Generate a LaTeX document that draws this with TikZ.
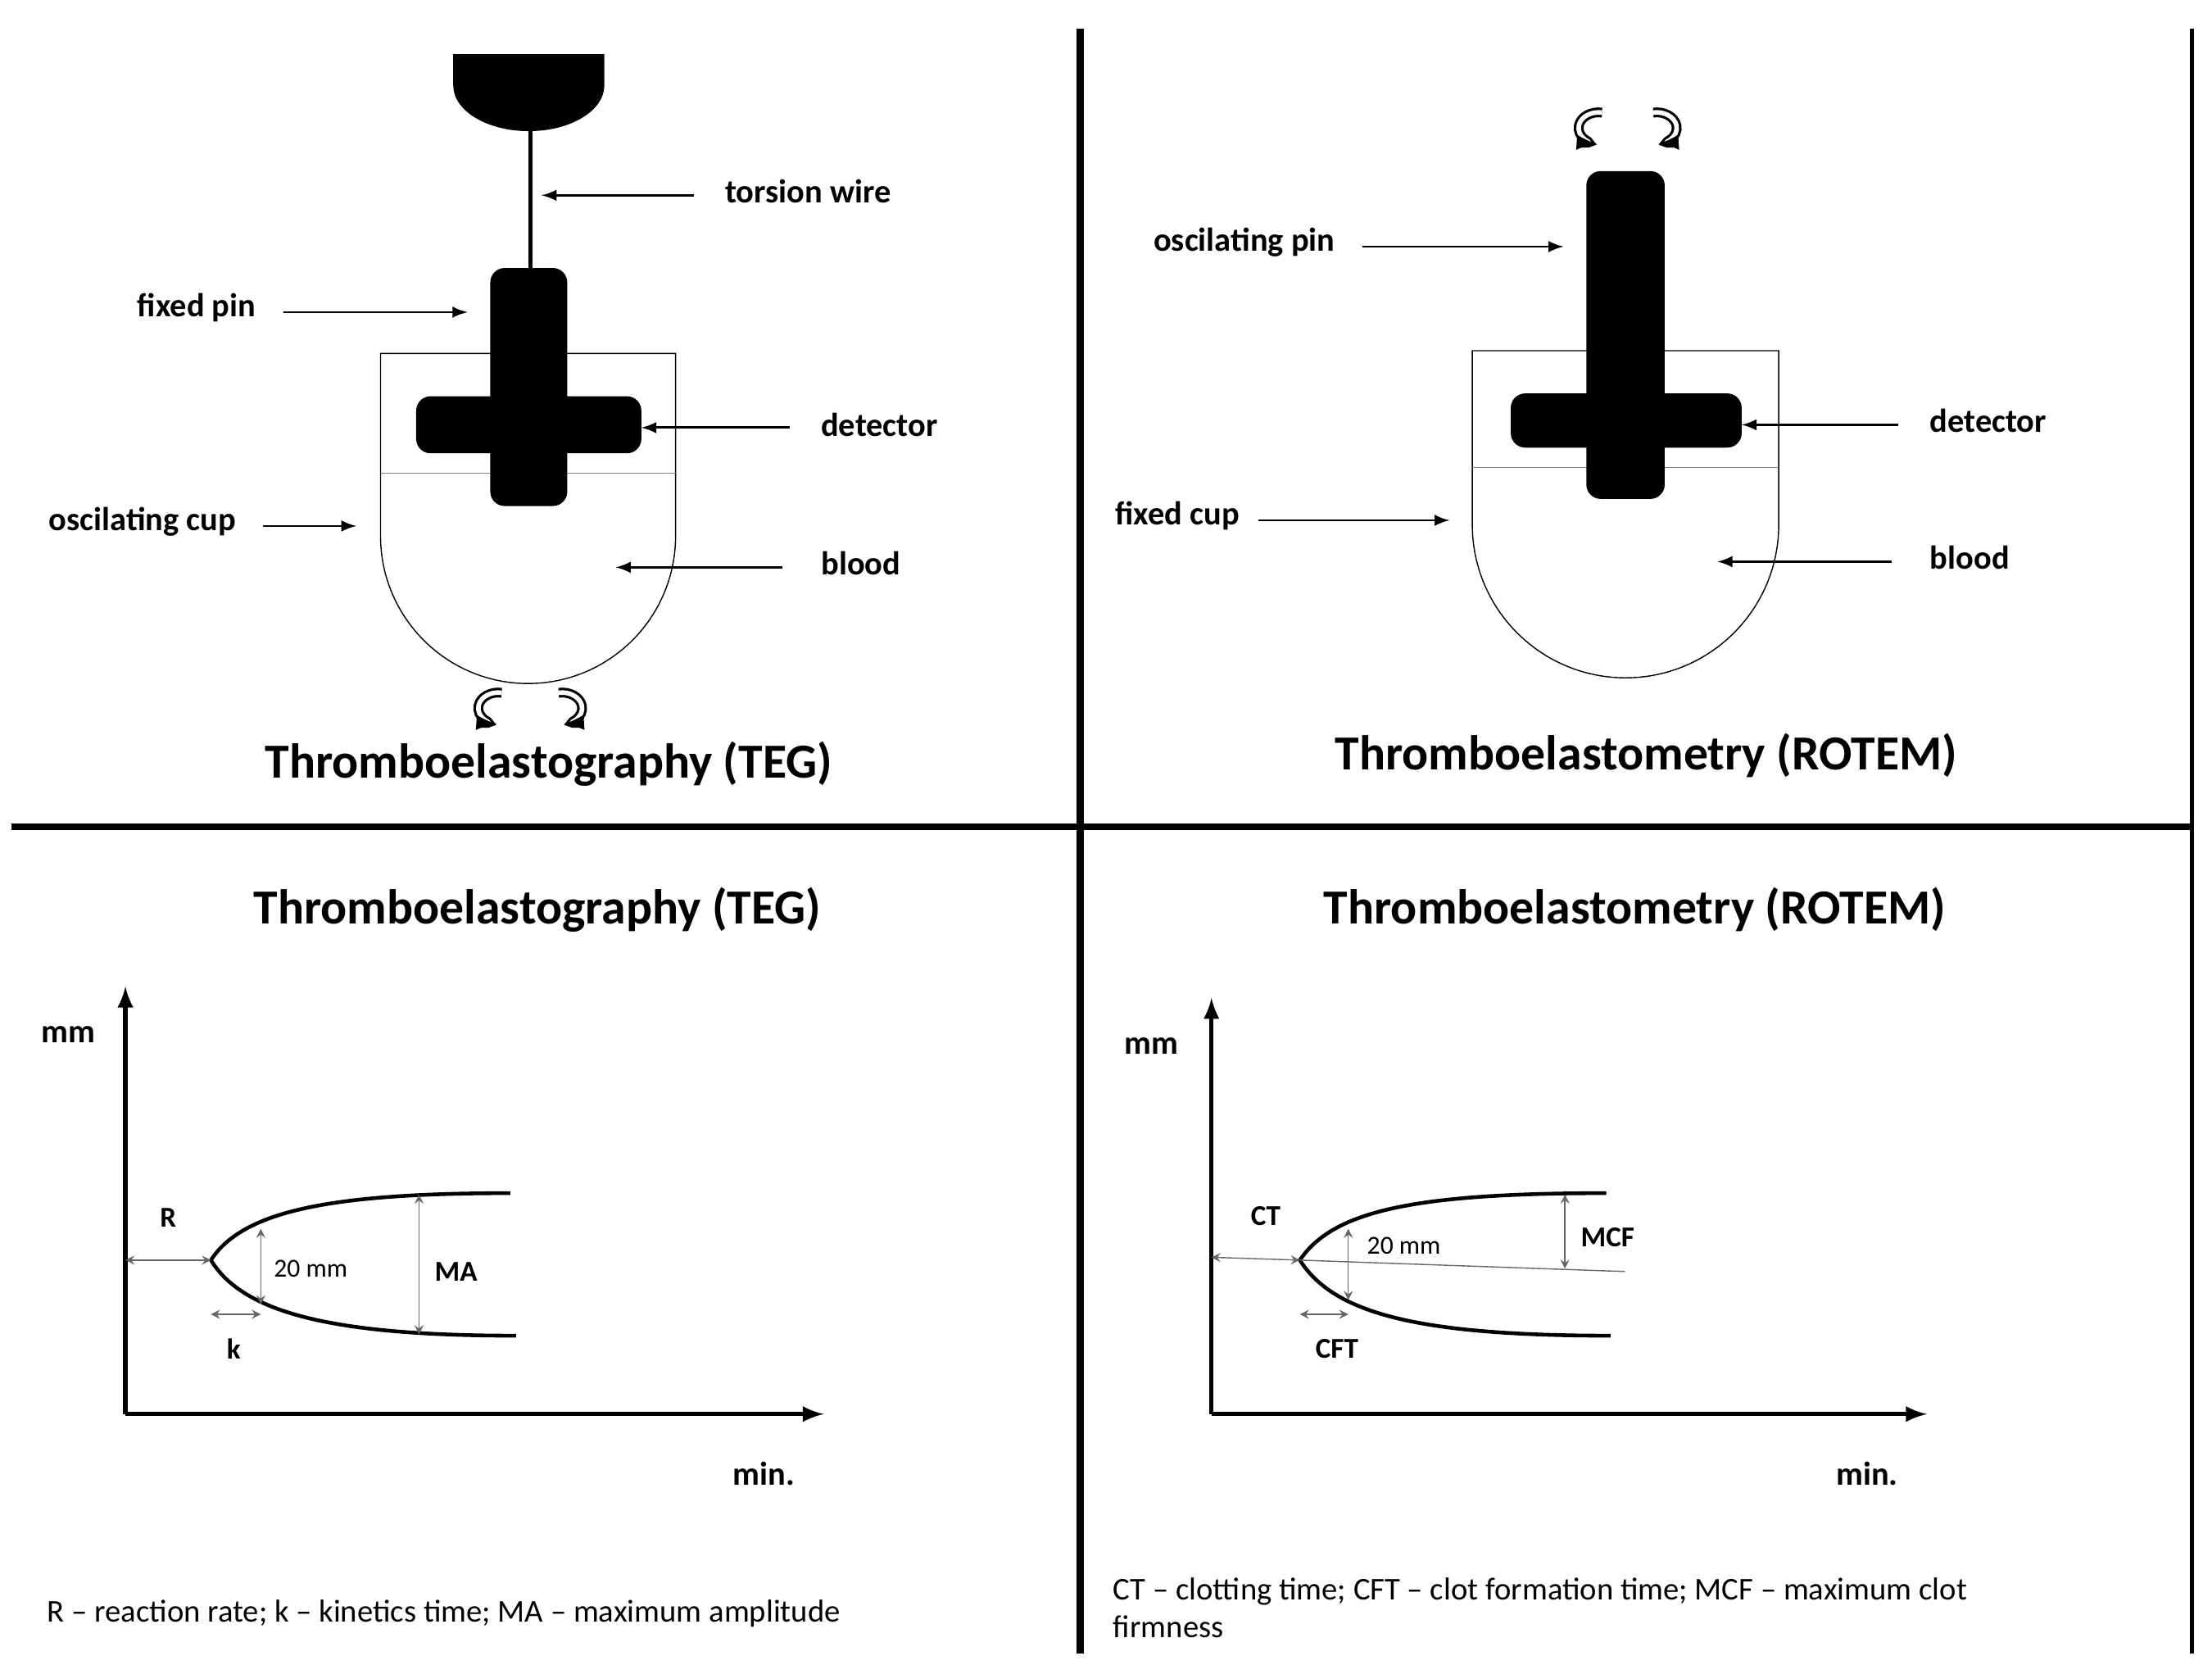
\documentclass[tikz,border=0pt]{standalone}
\usepackage{fontspec}
\setmainfont{Carlito}
\usetikzlibrary{positioning}
\tikzset{
  lbl/.style={font=\bfseries\fontsize{11.5}{14}\selectfont},
  ttl/.style={font=\bfseries\fontsize{17}{20}\selectfont},
  legend/.style={font=\fontsize{11}{13}\selectfont, anchor=west, align=left},
  small/.style={font=\fontsize{9}{10}\selectfont},
  link/.style={->, >=latex, thick},
  dim/.style={<->, >=stealth, draw=gray!80!black, thin},
  solid part/.style={fill=black, rounded corners=5pt},
  rot/.style={->, >=latex, line width=0.9pt, double=white, double distance=1.6pt},
}
\begin{document}
\begin{tikzpicture}[x=0.0174cm, y=-0.0174cm]
    \useasboundingbox (0,0) rectangle (1552,1168);
    % frame lines
    \draw[line width=2.5pt] (758,20) -- (758,1160);
    \draw[line width=1.5pt] (1538,20) -- (1538,1160);
    \draw[line width=2.5pt] (8,580) -- (1538,580);

    % TEG device
    \fill (318,38) -- (424,38) -- (424,60) arc (0:180:53 and 32) -- cycle;
    \draw[line width=1.5pt] (372,90) -- (372,190);
    \draw (267,248) -- (267,376) arc (180:0:103.5) -- (474,248) -- cycle;
    \draw[gray, thin] (267,332) -- (474,332);
    \fill[solid part] (344,188) rectangle (398,355);
    \fill[solid part] (292,278) rectangle (450,318);
    \draw[rot] (352,486) arc (-80:-265:14 and 11);
    \draw[rot] (392,486) arc (-100:85:14 and 11);
    \node[ttl] (tegdev) at (385,536) {Thromboelastography (TEG)};

    \node[lbl] (wire) at (567,134) {torsion wire};
    \node[lbl] (fpin) at (138,216) {fixed pin};
    \node[lbl] (detA) at (617,298) {detector};
    \node[lbl] (ocup) at (100,366) {oscilating cup};
    \node[lbl] (bldA) at (604,395) {blood};
    \coordinate (wireT) at (380,137);
    \coordinate (fpinT) at (328,219);
    \coordinate (detAT) at (450,300);
    \coordinate (ocupT) at (250,369);
    \coordinate (bldAT) at (432,398);
    \draw[link] (wire.west) ++(-15,3) -- (wireT);
    \draw[link] (fpin.east) ++(12,3) -- (fpinT);
    \draw[link] (detA.west) ++(-15,2) -- (detAT);
    \draw[link] (ocup.east) ++(12,3) -- (ocupT);
    \draw[link] (bldA.west) ++(-20,3) -- (bldAT);

    % ROTEM device
    \draw (1033,246) -- (1033,368) arc (180:0:107.5) -- (1248,246) -- cycle;
    \draw[gray, thin] (1033,328) -- (1248,328);
    \fill[solid part] (1113,120) rectangle (1168,350);
    \fill[solid part] (1060,276) rectangle (1222,314);
    \draw[rot] (1124,79) arc (-80:-265:14 and 11);
    \draw[rot] (1160,79) arc (-100:85:14 and 11);
    \node[ttl] (rotdev) at (1155,530) {Thromboelastometry (ROTEM)};

    \node[lbl] (opin) at (873,170) {oscilating pin};
    \node[lbl] (detB) at (1395,295) {detector};
    \node[lbl] (fcup) at (826,362) {fixed cup};
    \node[lbl] (bldB) at (1382,391) {blood};
    \coordinate (opinT) at (1097,173);
    \coordinate (detBT) at (1222,298);
    \coordinate (fcupT) at (1017,365);
    \coordinate (bldBT) at (1205,394);
    \draw[link] (opin.east) ++(12,3) -- (opinT);
    \draw[link] (detB.west) ++(-15,3) -- (detBT);
    \draw[link] (fcup.east) ++(6,3) -- (fcupT);
    \draw[link] (bldB.west) ++(-20,3) -- (bldBT);

    % TEG trace
    \node[ttl] (tegcurve) at (377,638) {Thromboelastography (TEG)};
    \coordinate (oA) at (88,992);
    \coordinate (yA) at (88,692);
    \coordinate (xA) at (578,992);
    \draw[link, line width=1.5pt] (oA) -- (yA);
    \draw[link, line width=1.5pt] (oA) -- (xA);
    \node[lbl] (mmA) at (48,726) {mm};
    \node[lbl] (minA) at (536,1034) {min.};
    \coordinate (vA) at (148,884);
    \draw[line width=1.3pt] (358,837) .. controls (230,837) and (170,850) .. (vA)
        .. controls (170,920) and (230,937) .. (362,937);
    \draw[dim] (88,884) -- (vA);
    \node[lbl, font=\bfseries\fontsize{10}{12}\selectfont] (R) at (118,854) {R};
    \draw[dim] (183,862) -- (183,915);
    \node[small] (mmA20) at (218,890) {20 mm};
    \draw[dim] (294,838) -- (294,936);
    \node[lbl, font=\bfseries\fontsize{10}{12}\selectfont] (MA) at (320,892) {MA};
    \draw[dim] (148,922) -- (183,922);
    \node[lbl, font=\bfseries\fontsize{10}{12}\selectfont] (k) at (164,946) {k};
    \node[legend] (capA) at (26,1132) {R -- reaction rate; k -- kinetics time; MA -- maximum amplitude};

    % ROTEM trace
    \node[ttl] (rotcurve) at (1147,638) {Thromboelastometry (ROTEM)};
    \coordinate (oB) at (850,992);
    \coordinate (yB) at (850,700);
    \coordinate (xB) at (1352,992);
    \draw[link, line width=1.5pt] (oB) -- (yB);
    \draw[link, line width=1.5pt] (oB) -- (xB);
    \node[lbl] (mmB) at (808,734) {mm};
    \node[lbl] (minB) at (1310,1034) {min.};
    \coordinate (vB) at (912,884);
    \draw[line width=1.3pt] (1127,837) .. controls (990,837) and (935,850) .. (vB)
        .. controls (935,920) and (990,937) .. (1130,937);
    \draw[gray!80!black, thin] (vB) -- (1140,892);
    \draw[dim] (850,882) -- (vB);
    \node[lbl, font=\bfseries\fontsize{10}{12}\selectfont] (CT) at (888,853) {CT};
    \draw[dim] (946,862) -- (946,912);
    \node[small] (mmB20) at (985,874) {20 mm};
    \draw[dim] (1098,838) -- (1098,890);
    \node[lbl, font=\bfseries\fontsize{10}{12}\selectfont] (MCF) at (1128,868) {MCF};
    \draw[dim] (912,922) -- (946,922);
    \node[lbl, font=\bfseries\fontsize{10}{12}\selectfont] (CFT) at (938,946) {CFT};
    \node[legend] (capB) at (774,1128) {CT -- clotting time; CFT -- clot formation time; MCF -- maximum clot\\firmness};
\end{tikzpicture}
\end{document}
